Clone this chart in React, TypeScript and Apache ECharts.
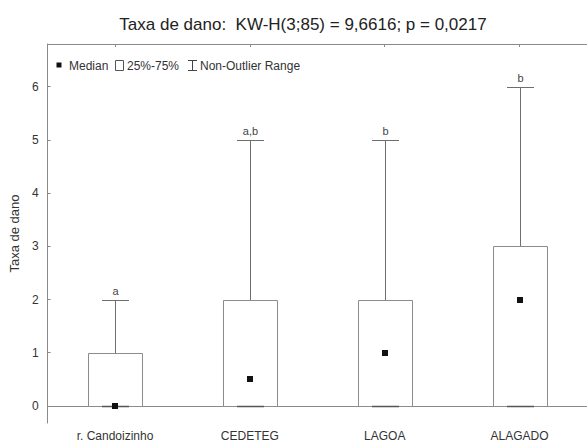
import React, { useEffect, useRef } from "react";
import * as echarts from "echarts";

const categories = ["r. Candoizinho", "CEDETEG", "LAGOA", "ALAGADO"];
const minValues = [0, 0, 0, 0];
const q1Values = [0, 0, 0, 0];
const medianValues = [0, 0.5, 1, 2];
const q3Values = [1, 2, 2, 3];
const maxValues = [2, 5, 5, 6];
const groupLetters = ["a", "a,b", "b", "b"];
const yTicks = [0, 1, 2, 3, 4, 5, 6];

const titleText = "Taxa de dano:  KW-H(3;85) = 9,6616; p = 0,0217";
const yName = "Taxa de dano";
const FONT = "'Liberation Sans', Arial, sans-serif";

export default function App() {
  const ref = useRef<HTMLDivElement>(null);
  useEffect(() => {
    if (!ref.current) return;
    const chart = echarts.init(ref.current, null, { renderer: "svg" });
    const data = categories.map((c, i) => [
      i,
      minValues[i],
      q1Values[i],
      medianValues[i],
      q3Values[i],
      maxValues[i],
    ]);
    const axisGray = "#8a8a8a";
    const option: any = {
      animation: false,
      backgroundColor: "#ffffff",
      textStyle: { fontFamily: FONT },
      grid: { left: 45, right: -5, top: 44, bottom: 17, containLabel: false },
      xAxis: [
        {
          type: "category",
          data: categories,
          position: "bottom",
          boundaryGap: true,
          axisLine: { show: true, lineStyle: { color: axisGray, width: 1 } },
          axisTick: { show: true, inside: true, length: 3, alignWithLabel: true, lineStyle: { color: axisGray } },
          axisLabel: { color: "#333", fontSize: 12, fontFamily: FONT, margin: 7, interval: 0 },
          splitLine: { show: false },
        },
        {
          type: "category",
          data: categories,
          position: "top",
          boundaryGap: true,
          axisLine: { show: true, onZero: false, lineStyle: { color: axisGray, width: 1 } },
          axisTick: { show: true, inside: true, length: 3, alignWithLabel: true, lineStyle: { color: axisGray } },
          axisLabel: { show: false },
          splitLine: { show: false },
        },
      ],
      yAxis: {
        type: "value",
        min: -0.32,
        max: 6.8,
        name: yName,
        nameLocation: "middle",
        nameGap: 19,
        nameRotate: 90,
        nameTextStyle: { color: "#333", fontSize: 13, fontFamily: FONT },
        axisLine: { show: true, onZero: false, lineStyle: { color: axisGray, width: 1 } },
        axisTick: { show: true, inside: true, length: 3, customValues: yTicks, lineStyle: { color: axisGray } },
        axisLabel: { color: "#333", fontSize: 12, fontFamily: FONT, margin: 9, customValues: yTicks },
        splitLine: { show: false },
      },
      graphic: [
        {
          type: "text",
          x: 303,
          y: 24,
          style: {
            text: titleText,
            fontSize: 17,
            fontFamily: FONT,
            fill: "#222",
            align: "center",
            verticalAlign: "middle",
          },
        },
        { type: "rect", shape: { x: 56.5, y: 62.5, width: 5, height: 5 }, style: { fill: "#111" } },
        {
          type: "text",
          x: 69,
          y: 65.5,
          style: { text: "Median", fontSize: 12, fontFamily: FONT, fill: "#333", verticalAlign: "middle" },
        },
        {
          type: "rect",
          shape: { x: 115.5, y: 60.5, width: 8, height: 10 },
          style: { fill: "#fff", stroke: "#555", lineWidth: 1 },
        },
        {
          type: "text",
          x: 127,
          y: 65.5,
          style: { text: "25%-75%", fontSize: 12, fontFamily: FONT, fill: "#333", verticalAlign: "middle" },
        },
        { type: "line", shape: { x1: 192.5, y1: 60, x2: 192.5, y2: 71 }, style: { stroke: "#444", lineWidth: 1 } },
        { type: "line", shape: { x1: 188, y1: 60.5, x2: 197, y2: 60.5 }, style: { stroke: "#444", lineWidth: 1 } },
        { type: "line", shape: { x1: 188, y1: 70.5, x2: 197, y2: 70.5 }, style: { stroke: "#444", lineWidth: 1 } },
        {
          type: "text",
          x: 200,
          y: 65.5,
          style: { text: "Non-Outlier Range", fontSize: 12, fontFamily: FONT, fill: "#333", verticalAlign: "middle" },
        },
      ],
      series: [
        {
          type: "custom",
          xAxisIndex: 0,
          yAxisIndex: 0,
          data,
          encode: { x: 0, y: [1, 2, 3, 4, 5] },
          renderItem: (params: any, api: any) => {
            const idx = api.value(0);
            const mn = api.value(1);
            const q1 = api.value(2);
            const md = api.value(3);
            const q3 = api.value(4);
            const mx = api.value(5);
            const cx = Math.round(api.coord([idx, 0])[0]) + 0.5;
            const band = api.size([1, 0])[0];
            const bw = Math.round(band * 0.4);
            const capW = Math.round(band * 0.2);
            const y = (v: number) => Math.round(api.coord([idx, v])[1]) + 0.5;
            const whisker = { stroke: "#6e6e6e", lineWidth: 1 };
            return {
              type: "group",
              children: [
                { type: "line", shape: { x1: cx, y1: y(q3), x2: cx, y2: y(mx) }, style: whisker },
                { type: "line", shape: { x1: cx - capW / 2, y1: y(mx), x2: cx + capW / 2, y2: y(mx) }, style: whisker },
                { type: "line", shape: { x1: cx, y1: y(q1), x2: cx, y2: y(mn) }, style: whisker },
                {
                  type: "rect",
                  shape: { x: cx - bw / 2, y: y(q3), width: bw, height: y(q1) - y(q3) },
                  style: { fill: "#ffffff", stroke: "#8c8c8c", lineWidth: 1 },
                },
                {
                  type: "line",
                  shape: { x1: cx - capW / 2, y1: y(mn), x2: cx + capW / 2, y2: y(mn) },
                  style: { stroke: "#555", lineWidth: 1.5 },
                },
                {
                  type: "rect",
                  shape: { x: cx - 3.5, y: y(md) - 3.5, width: 6, height: 6 },
                  style: { fill: "#111" },
                },
                {
                  type: "text",
                  x: cx,
                  y: y(mx) - 4,
                  style: {
                    text: groupLetters[idx],
                    fontSize: 11,
                    fontFamily: FONT,
                    fill: "#444",
                    align: "center",
                    verticalAlign: "bottom",
                  },
                },
              ],
            };
          },
        },
      ],
    };
    chart.setOption(option);
    return () => chart.dispose();
  }, []);
  return (
    <div
      ref={ref}
      style={{ position: "absolute", left: 0, top: 0, width: 587, height: 442 }}
    />
  );
}
